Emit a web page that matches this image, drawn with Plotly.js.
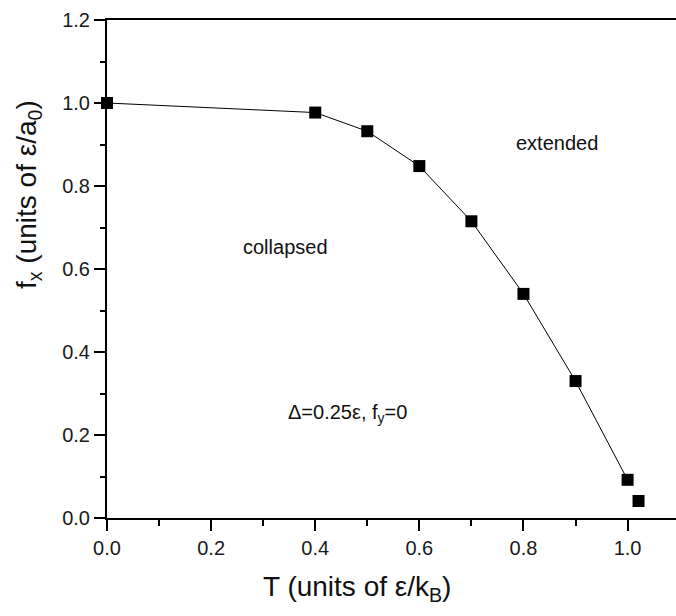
<!DOCTYPE html>
<html><head><meta charset="utf-8">
<script src="https://cdn.plot.ly/plotly-3.0.1.min.js"></script>
<style>body{margin:0;padding:0;}#chart{width:676px;height:616px;}</style>
</head><body><div id="chart"></div>
<script>
const T = [0.0, 0.4, 0.5, 0.6, 0.7, 0.8, 0.9, 1.0];
const fx = [1.0, 0.977, 0.932, 0.848, 0.715, 0.540, 0.330, 0.092];
const Textra = [1.021];
const fxExtra = [0.041];
const xTicks = [0, 0.2, 0.4, 0.6, 0.8, 1.0];
const xTickText = ['0.0', '0.2', '0.4', '0.6', '0.8', '1.0'];
const yTicks = [0, 0.2, 0.4, 0.6, 0.8, 1.0, 1.2];
const yTickText = ['0.0', '0.2', '0.4', '0.6', '0.8', '1.0', '1.2'];
const xTitle = 'T (units of ε/k<sub>B</sub>)';
const yTitle = 'f<sub>x</sub> (units of ε/a<sub>0</sub>)';
const labels = ['extended', 'collapsed', 'Δ=0.25ε, f<sub>y</sub>=0'];
const labelX = [0.864, 0.343, 0.462];
const labelY = [0.904, 0.653, 0.253];

const fam = 'Liberation Sans, Arial, sans-serif';
const data = [
  {x: T, y: fx, mode: 'lines+markers', type: 'scatter',
   line: {color: '#000', width: 1},
   marker: {symbol: 'square', size: 12, color: '#000'}, cliponaxis: false},
  {x: Textra, y: fxExtra, mode: 'markers', type: 'scatter',
   marker: {symbol: 'square', size: 12, color: '#000'}, cliponaxis: false}
];
const plotW = 676 - 107, plotH = 616 - 20 - 98;
const annotations = labels.map((t, i) => ({
  x: labelX[i], y: labelY[i], xref: 'x', yref: 'y', text: t, showarrow: false,
  xanchor: 'center', yanchor: 'middle',
  font: {size: 20, family: fam, color: '#111'}
}));
annotations.push({x: (357 - 107) / plotW, y: (518 - 588) / plotH, xref: 'paper', yref: 'paper',
  text: xTitle, showarrow: false, xanchor: 'center', yanchor: 'middle',
  font: {size: 28, family: fam, color: '#111'}});
annotations.push({x: (28 - 107) / plotW, y: (518 - 195) / plotH, xref: 'paper', yref: 'paper',
  text: yTitle, showarrow: false, textangle: -90, xanchor: 'center', yanchor: 'middle',
  font: {size: 28, family: fam, color: '#111'}});
const layout = {
  width: 676, height: 616,
  margin: {l: 107, r: 0, t: 20, b: 98},
  showlegend: false,
  paper_bgcolor: '#fff', plot_bgcolor: '#fff',
  font: {family: fam, color: '#000', size: 20},
  xaxis: {
    range: [0, 1.093], showgrid: false, zeroline: false,
    showline: true, linecolor: '#000', linewidth: 2, mirror: true,
    ticks: 'outside', ticklen: 11, tickwidth: 2, tickcolor: '#000',
    tickvals: xTicks, ticktext: xTickText,
    tickfont: {size: 20, family: fam, color: '#1a1a1a'},
    minor: {dtick: 0.1, tick0: 0, ticks: 'outside', ticklen: 6, tickwidth: 2, tickcolor: '#000', showgrid: false}
  },
  yaxis: {
    range: [0, 1.2], showgrid: false, zeroline: false,
    showline: true, linecolor: '#000', linewidth: 2, mirror: false,
    ticks: 'outside', ticklen: 11, tickwidth: 2, tickcolor: '#000',
    tickvals: yTicks, ticktext: yTickText,
    tickfont: {size: 20, family: fam, color: '#1a1a1a'},
    minor: {dtick: 0.1, tick0: 0, ticks: 'outside', ticklen: 5, tickwidth: 2, tickcolor: '#000', showgrid: false}
  },
  annotations: annotations
};
Plotly.newPlot('chart', data, layout, {displayModeBar: false, staticPlot: true});
</script></body></html>
